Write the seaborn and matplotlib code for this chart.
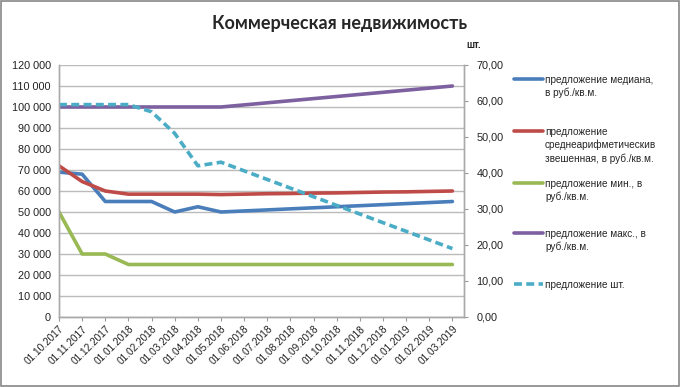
import matplotlib
matplotlib.use("Agg")
import matplotlib.pyplot as plt
import matplotlib.ticker as mticker
import seaborn as sns
import pandas as pd
import numpy as np
from matplotlib.patches import Rectangle

dates = ["01.10.2017", "01.11.2017", "01.12.2017", "01.01.2018", "01.02.2018", "01.03.2018",
         "01.04.2018", "01.05.2018", "01.06.2018", "01.07.2018", "01.08.2018", "01.09.2018",
         "01.10.2018", "01.11.2018", "01.12.2018", "01.01.2019", "01.02.2019", "01.03.2019"]

median = [69000, 68000, 55000, 55000, 55000, 50000, 52500, 50000, 50500, 51000,
          51500, 52000, 52500, 53000, 53500, 54000, 54500, 55000]
mean_w = [72000, 64500, 60000, 58500, 58500, 58500, 58500, 58300, 58500, 58700,
          58800, 59000, 59100, 59300, 59500, 59600, 59800, 60000]
min_p = [50000, 30000, 30000, 25000, 25000, 25000, 25000, 25000, 25000, 25000,
         25000, 25000, 25000, 25000, 25000, 25000, 25000, 25000]
max_p = [100000, 100000, 100000, 100000, 100000, 100000, 100000, 100000, 101000, 102000,
         103000, 104000, 105000, 106000, 107000, 108000, 109000, 110000]
count = [59, 59, 59, 59, 57, 51, 42, 43, 40.6, 38.2, 35.8, 33.4, 31, 28.6, 26.2, 23.8, 21.4, 19]

labels = ["предложение медиана,\nв руб./кв.м.",
          "предложение\nсреднеарифметическив\nзвешенная, в руб./кв.м.",
          "предложение мин., в\nруб./кв.м.",
          "предложение макс., в\nруб./кв.м.",
          "предложение шт."]
colors = ["#4A7EBB", "#BE4B48", "#98B954", "#7D60A0", "#4BACC6"]
title = "Коммерческая недвижимость"

sns.set_theme(style="white")
plt.rcParams["font.family"] = ["Liberation Sans", "DejaVu Sans"]

fig = plt.figure(figsize=(6.81, 3.87), dpi=100)
ax = fig.add_axes([59/681, 1-317/387, (464-59)/681, (317-65)/387])
ax2 = ax.twinx()

x = np.arange(len(dates))
df = pd.DataFrame({"x": x, "median": median, "mean": mean_w, "min": min_p, "max": max_p, "count": count})

lw = 2.6
for col, c, lab in zip(["median", "mean", "min", "max"], colors[:4], labels[:4]):
    sns.lineplot(data=df, x="x", y=col, ax=ax, color=c, linewidth=lw, label=lab, legend=False)
sns.lineplot(data=df, x="x", y="count", ax=ax2, color=colors[4], linewidth=lw,
             linestyle=(0, (2.2, 1.2)), label=labels[4], legend=False)

ax.set_xlim(0, 17.5)
ax.set_ylim(0, 120000)
ax2.set_ylim(0, 70)
ax.set_yticks(np.arange(0, 120001, 10000))
ax2.set_yticks(np.arange(0, 70.01, 10))
ax.yaxis.set_major_formatter(mticker.FuncFormatter(lambda v, p: f"{int(v):,}".replace(",", " ")))
ax2.yaxis.set_major_formatter(mticker.FuncFormatter(lambda v, p: f"{v:.2f}".replace(".", ",")))
ax.set_xticks(x)
ax.set_xticklabels(dates, rotation=45, ha="right", rotation_mode="anchor", fontsize=7.3, color="#222222")
ax.tick_params(axis="y", labelsize=7.8, colors="#222222", length=0, pad=6)
ax2.tick_params(axis="y", labelsize=7.8, colors="#222222", length=3, width=0.8, direction="out", pad=6)
ax.tick_params(axis="x", length=3, width=0.8, direction="out", color="#999999", pad=2, bottom=True)
ax2.tick_params(axis="y", color="#999999")
ax.set_xlabel("")
ax.set_ylabel("")
ax2.set_ylabel("")
ax.grid(axis="y", color="#BBBBBB", linewidth=1)
ax.set_axisbelow(True)
for a in (ax, ax2):
    a.spines["top"].set_visible(False)
    for s in ["left", "bottom", "right"]:
        a.spines[s].set_color("#AAAAAA")
        a.spines[s].set_linewidth(1)

fig.text(340/681, 1-23/387, title, ha="center", va="center", fontsize=13, fontweight="bold",
         family=["Lato", "DejaVu Sans"])
fig.text(474/681, 1-45/387, "шт.", ha="center", va="center", fontsize=7, fontweight="bold")

h1, l1 = ax.get_legend_handles_labels()
h2, l2 = ax2.get_legend_handles_labels()
handles = h1 + h2
leg_labels = l1 + l2
entry_y = [81, 133, 185, 235, 286]
for h, l, yy in zip(handles, leg_labels, entry_y):
    leg = fig.legend([h], [l], loc="upper left", bbox_to_anchor=(514/681, 1-(yy-6)/387), frameon=False,
                     fontsize=7.2, handlelength=2.9, handletextpad=0.2, borderaxespad=0, borderpad=0)
    for t in leg.get_texts():
        t.set_linespacing(1.35)
        t.set_color("#262626")
    for colbox in leg._legend_handle_box.get_children():
        for item in colbox.get_children():
            item.align = "top"

fig.patches.append(Rectangle((0.002, 0.003), 0.995, 0.994, transform=fig.transFigure,
                             fill=False, edgecolor="#888888", linewidth=1.2))

fig.savefig("out.png", dpi=100)
